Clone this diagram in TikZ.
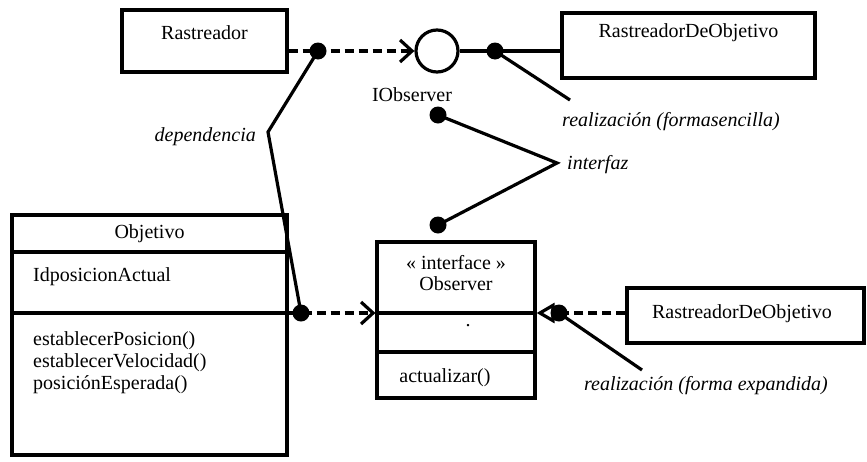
\documentclass[tikz,border=0pt]{standalone}
\usepackage{fontspec}
\setmainfont{Liberation Serif}
\usetikzlibrary{arrows.meta}
\begin{document}
\begin{tikzpicture}[x=1pt,y=-1pt,
  every node/.style={font=\fontsize{20}{22}\selectfont, inner sep=0pt},
  ln/.style={line width=3.2pt},
  boxn/.style={draw, line width=3.2pt, rectangle},
  dotn/.style={circle, fill=black, minimum size=17pt, inner sep=0pt},
  dsh/.style={line width=3.2pt, dash pattern=on 9pt off 5pt},
  lbl/.style={font=\itshape\fontsize{20}{22}\selectfont},
  barb/.style={-{Straight Barb[length=12pt,width=22pt,line width=3.2pt]}},
  realz/.style={-{Triangle[open,length=18pt,width=20pt,line width=3.2pt,fill=white]}}
]
\useasboundingbox (0,0) rectangle (867,461);

% top row
\node[boxn, minimum width=165pt, minimum height=62pt] (rast) at (204.5,41) {};
\node (rastT) at (204.5,33) {Rastreador};
\node[draw, circle, line width=3.2pt, minimum size=42pt] (iobs) at (437,51) {};
\node (iobsT) at (412,95) {IObserver};
\node[boxn, minimum width=253pt, minimum height=65pt] (rdo1) at (688.5,45.5) {};
\node (rdo1T) at (688.5,33) {RastreadorDeObjetivo};

\draw[dsh, barb] (rast.east |- iobs.west) -- (iobs.west);
\draw[ln] (iobs.east) -- (rdo1.west |- iobs.east);
\node[dotn] (d1) at (318,51) {};
\node[dotn] (d2) at (495,51) {};
\coordinate (c1) at (570,100);
\draw[ln] (d2.center) -- (c1);
\node[lbl] (realz1) at (671,122) {realización (formasencilla)};

% interfaz
\node[dotn] (d3) at (438,115) {};
\node[dotn] (d4) at (438,225) {};
\coordinate (vtx) at (557,163);
\draw[ln] (d3.center) -- (vtx) -- (d4.center);
\node[lbl, anchor=west] (interfazT) at (567,165) {interfaz};

% Objetivo class
\node[boxn, minimum width=275pt, minimum height=240pt] (obj) at (149.5,335) {};
\draw[ln] (obj.west |- 0,252) -- (obj.east |- 0,252);
\draw[ln] (obj.west |- 0,313) -- (obj.east |- 0,313);
\node (objT) at (149.5,234) {Objetivo};
\node[anchor=west] (objA) at (33,277) {IdposicionActual};
\node[anchor=north west, align=left] (objM) at (33,331) {establecerPosicion()\\establecerVelocidad()\\posiciónEsperada()};

% Observer interface class
\node[boxn, minimum width=158pt, minimum height=156pt] (obs) at (456,320) {};
\draw[ln] (obs.west |- 0,313) -- (obs.east |- 0,313);
\draw[ln] (obs.west |- 0,352) -- (obs.east |- 0,352);
\node (obsS) at (456,263) {« interface »};
\node (obsT) at (456,284) {Observer};
\node (obsD) at (468,326) {.};
\node (obsM) at (445,378) {actualizar()};

% dependency
\node[dotn] (d5) at (301,313) {};
\draw[dsh, barb] (obj.east |- 0,313) -- (obs.west |- 0,313);
\coordinate (bend) at (268,132);
\draw[ln] (d1.center) -- (bend) -- (d5.center);
\node[lbl, anchor=east] (depT) at (256,137) {dependencia};

% expanded realization
\node[boxn, minimum width=237pt, minimum height=55pt] (rdo2) at (745.5,315.5) {};
\node (rdo2T) at (742,314) {RastreadorDeObjetivo};
\draw[dsh, realz] (rdo2.west |- 0,313) -- (obs.east |- 0,313);
\node[dotn] (d6) at (559,313) {};
\coordinate (c2) at (642,370);
\draw[ln] (d6.center) -- (c2);
\node[lbl] (realz2) at (706,386) {realización (forma expandida)};
\end{tikzpicture}
\end{document}
